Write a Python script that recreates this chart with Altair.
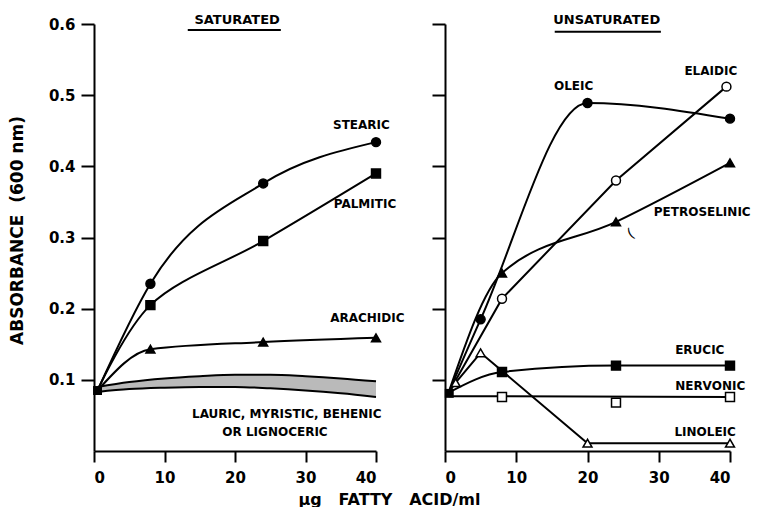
import altair as alt
import pandas as pd

# ---------------- data: SATURATED ----------------
stearic_x = [0.5, 8, 24, 40]
stearic_y = [0.085, 0.235, 0.376, 0.434]
palmitic_x = [0.5, 8, 24, 40]
palmitic_y = [0.085, 0.205, 0.295, 0.390]
arachidic_x = [0.5, 8, 24, 40]
arachidic_y = [0.085, 0.143, 0.153, 0.159]
band_x = [0.5, 5, 10, 15, 20, 25, 30, 35, 40]
band_top = [0.090, 0.097, 0.102, 0.105, 0.107, 0.107, 0.105, 0.102, 0.098]
band_bottom = [0.083, 0.087, 0.089, 0.090, 0.090, 0.088, 0.085, 0.081, 0.076]
sat_origin_x = [0.5]
sat_origin_y = [0.085]

# ---------------- data: UNSATURATED ----------------
oleic_x = [0.5, 5, 20, 40]
oleic_y = [0.082, 0.185, 0.489, 0.467]
elaidic_x = [0.5, 8, 24, 39.5]
elaidic_y = [0.082, 0.214, 0.380, 0.512]
petroselinic_x = [0.5, 8, 24, 40]
petroselinic_y = [0.082, 0.250, 0.322, 0.405]
erucic_x = [0.5, 8, 24, 40]
erucic_y = [0.082, 0.111, 0.120, 0.120]
nervonic_x = [8, 24, 40]
nervonic_y = [0.076, 0.068, 0.076]
nervonic_fit_x = [0.5, 40]
nervonic_fit_y = [0.077, 0.076]
linoleic_x = [0.5, 1.5, 5, 20, 40]
linoleic_y = [0.082, 0.096, 0.138, 0.011, 0.011]
unsat_origin_x = [0.6]
unsat_origin_y = [0.081]

# ---------------- text ----------------
x_ticks = [0, 10, 20, 30, 40]
y_ticks = [0.1, 0.2, 0.3, 0.4, 0.5, 0.6]
NB = "\u00a0"
x_title = "\u03bcg" + NB * 3 + "FATTY" + NB * 3 + "ACID/ml"
y_title = "ABSORBANCE" + NB * 2 + "(600" + NB + "nm)"

sat_labels = ["STEARIC", "PALMITIC", "ARACHIDIC", "LAURIC, MYRISTIC, BEHENIC", "OR LIGNOCERIC"]
sat_label_x = [33.9, 34.0, 33.5, 13.9, 18.2]
sat_label_y = [0.458, 0.347, 0.187, 0.052, 0.027]

unsat_labels = ["OLEIC", "ELAIDIC", "PETROSELINIC", "ERUCIC", "NERVONIC", "LINOLEIC"]
unsat_label_x = [15.3, 33.6, 29.3, 32.3, 32.3, 32.2]
unsat_label_y = [0.513, 0.534, 0.336, 0.142, 0.091, 0.027]

panel_titles = ["SATURATED", "UNSATURATED"]
title_x = [20.3, 22.7]
title_y = [0.606, 0.606]
underline_x = [13.3, 15.4]
underline_x2 = [26.5, 30.3]
underline_y = [0.5916, 0.589]

FONT = "DejaVu Sans"


def frame(xs, ys, name):
    return pd.DataFrame({"x": xs, "y": ys, "series": name})


sat_mono = pd.concat([
    frame(stearic_x, stearic_y, "Stearic"),
    frame(arachidic_x, arachidic_y, "Arachidic"),
])
sat_cr = frame(palmitic_x, palmitic_y, "Palmitic")
sat_points = pd.concat([
    frame(stearic_x, stearic_y, "Stearic"),
    frame(palmitic_x, palmitic_y, "Palmitic"),
    frame(arachidic_x, arachidic_y, "Arachidic"),
])
band = pd.DataFrame({"x": band_x, "y": band_top, "y2": band_bottom})
band_edges = pd.concat([
    frame(band_x, band_top, "top"),
    frame(band_x, band_bottom, "bottom"),
])

unsat_smooth = pd.concat([
    frame(oleic_x, oleic_y, "Oleic"),
    frame(petroselinic_x, petroselinic_y, "Petroselinic"),
    frame(erucic_x, erucic_y, "Erucic"),
])
unsat_straight = pd.concat([
    frame(elaidic_x, elaidic_y, "Elaidic"),
    frame(nervonic_fit_x, nervonic_fit_y, "NervonicFit"),
    frame(linoleic_x, linoleic_y, "Linoleic"),
])
unsat_points = pd.concat([
    frame(oleic_x, oleic_y, "Oleic"),
    frame(elaidic_x, elaidic_y, "Elaidic"),
    frame(petroselinic_x, petroselinic_y, "Petroselinic"),
    frame(erucic_x, erucic_y, "Erucic"),
    frame(nervonic_x, nervonic_y, "Nervonic"),
    frame(linoleic_x, linoleic_y, "Linoleic"),
])

shape_dom = ["Stearic", "Palmitic", "Arachidic", "Oleic", "Elaidic", "Petroselinic",
             "Erucic", "Nervonic", "Linoleic"]
shape_rng = ["circle", "square", "triangle-up", "circle", "circle", "triangle-up",
             "square", "square", "triangle-up"]
fill_rng = ["black", "black", "black", "black", "white", "black",
            "black", "white", "white"]

xscale = alt.Scale(domain=[0, 40], nice=False)
yscale = alt.Scale(domain=[0, 0.6], nice=False)

x_left = alt.X("x:Q", scale=xscale, axis=alt.Axis(
    values=x_ticks, title=x_title, titleX=295, titleY=40, titleAlign="center",
    titleBaseline="top", titleFontSize=16, titleFont=FONT, titleFontWeight="bold",
    tickSize=11, labelPadding=8))
y_left = alt.Y("y:Q", scale=yscale, axis=alt.Axis(
    values=y_ticks, format=".1f", title=y_title, titleX=-77, titleY=206,
    titleAngle=270, titleAlign="center", titleBaseline="middle",
    titleFontSize=17, titleFont=FONT, titleFontWeight="bold",
    tickSize=13, labelPadding=6))
x_right = alt.X("x:Q", scale=xscale, axis=alt.Axis(values=x_ticks, title=None, tickSize=11,
                                                   labelPadding=8))
y_right = alt.Y("y:Q", scale=yscale, axis=alt.Axis(values=y_ticks, title=None, labels=False, tickSize=13))

shape_enc = alt.Shape("series:N", scale=alt.Scale(domain=shape_dom, range=shape_rng), legend=None)
fill_enc = alt.Fill("series:N", scale=alt.Scale(domain=shape_dom, range=fill_rng), legend=None)


def line(df, xenc, yenc, interp):
    return alt.Chart(df).mark_line(color="black", strokeWidth=2, interpolate=interp).encode(
        x=xenc, y=yenc, detail="series:N")


def panel(xenc, yenc, line_layers, points, origin, labels, title_idx):
    layers = list(line_layers)
    layers.append(alt.Chart(points).transform_filter("datum.x > 1").mark_point(
        filled=True, stroke="black", strokeWidth=1.5, size=80, opacity=1).encode(
        x=xenc, y=yenc, shape=shape_enc, fill=fill_enc))
    layers.append(alt.Chart(origin).mark_point(
        filled=True, color="black", shape="square", size=80, opacity=1).encode(x=xenc, y=yenc))
    layers.append(alt.Chart(labels).mark_text(
        align="left", baseline="middle", font=FONT, fontSize=12, fontWeight="bold",
        color="black").encode(x=xenc, y=yenc, text="label:N"))
    tdf = pd.DataFrame({"x": [title_x[title_idx]], "y": [title_y[title_idx]],
                        "label": [panel_titles[title_idx]]})
    layers.append(alt.Chart(tdf).mark_text(
        align="center", baseline="middle", font=FONT, fontSize=13, fontWeight="bold",
        color="black").encode(x=xenc, y=yenc, text="label:N"))
    udf = pd.DataFrame({"x": [underline_x[title_idx]], "x2": [underline_x2[title_idx]],
                        "y": [underline_y[title_idx]]})
    layers.append(alt.Chart(udf).mark_rule(color="black", strokeWidth=2).encode(
        x=xenc, x2="x2:Q", y=yenc))
    return alt.layer(*layers)


sat_lines = [
    alt.Chart(band).mark_area(color="#bababa", interpolate="monotone", opacity=1).encode(
        x=x_left, y=y_left, y2="y2:Q"),
    line(band_edges, x_left, y_left, "monotone"),
    line(sat_mono, x_left, y_left, "monotone"),
    line(sat_cr, x_left, y_left, "catmull-rom"),
]
unsat_lines = [
    line(unsat_smooth, x_right, y_right, "monotone"),
    line(unsat_straight, x_right, y_right, "linear"),
    alt.Chart(pd.DataFrame({"x": [26.1], "y": [0.305], "label": ["("]})).mark_text(
        font=FONT, fontSize=14, angle=330, color="black").encode(
        x=x_right, y=y_right, text="label:N"),
]

sat_label_df = pd.DataFrame({"x": sat_label_x, "y": sat_label_y, "label": sat_labels})
unsat_label_df = pd.DataFrame({"x": unsat_label_x, "y": unsat_label_y, "label": unsat_labels})

left = panel(x_left, y_left, sat_lines, sat_points,
             pd.DataFrame({"x": sat_origin_x, "y": sat_origin_y}),
             sat_label_df, 0).properties(width=282, height=427)

right = panel(x_right, y_right, unsat_lines, unsat_points,
              pd.DataFrame({"x": unsat_origin_x, "y": unsat_origin_y}),
              unsat_label_df, 1).properties(width=285, height=427)

chart = alt.hconcat(left, right, spacing=69, bounds="flush").configure_view(
    stroke=None).configure_axis(
    grid=False, domainColor="black", domainWidth=2, tickColor="black", tickWidth=2,
    labelFont=FONT, labelFontSize=15, labelFontWeight="bold", labelColor="black",
    titleColor="black").properties(
    background="white", padding={"left": 0, "top": 5, "right": 0, "bottom": 0})

chart.save("out.html", embed_options={"renderer": "svg", "actions": False})
